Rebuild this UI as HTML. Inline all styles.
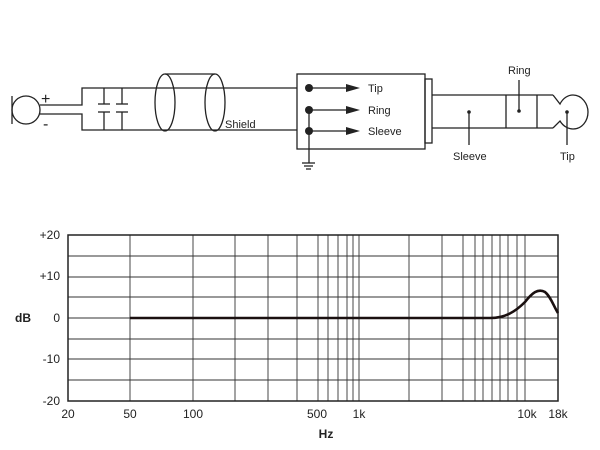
<!DOCTYPE html>
<html><head><style>
body{margin:0;background:#fff}
svg{display:block}
text{font-family:"Liberation Sans",sans-serif;fill:#222}
</style></head><body>
<svg width="600" height="450" viewBox="0 0 600 450" xmlns="http://www.w3.org/2000/svg">
<g fill="none" stroke="#222" stroke-width="1.3">
<circle cx="26" cy="110" r="14"/>
<line x1="12" y1="96" x2="12" y2="124"/>
<polyline points="40,105 82,105 82,88 297,88"/>
<polyline points="40,114 82,114 82,130 297,130"/>
<line x1="104" y1="88" x2="104" y2="104"/><line x1="98" y1="104" x2="110" y2="104"/>
<line x1="98" y1="112" x2="110" y2="112"/><line x1="104" y1="112" x2="104" y2="130"/>
<line x1="122" y1="88" x2="122" y2="104"/><line x1="116" y1="104" x2="128" y2="104"/>
<line x1="116" y1="112" x2="128" y2="112"/><line x1="122" y1="112" x2="122" y2="130"/>
<ellipse cx="165" cy="102.5" rx="10" ry="28.5"/>
<ellipse cx="215" cy="102.5" rx="10" ry="28.5"/>
<line x1="165" y1="74" x2="215" y2="74"/>
<rect x="297" y="74" width="128" height="75"/>
<rect x="425" y="79" width="7" height="64"/>
<line x1="309" y1="88" x2="348" y2="88"/>
<line x1="309" y1="110" x2="348" y2="110"/>
<line x1="309" y1="131" x2="348" y2="131"/>
<line x1="309" y1="110" x2="309" y2="163"/>
<line x1="302" y1="163" x2="315" y2="163"/>
<line x1="304" y1="166" x2="313" y2="166"/>
<line x1="306" y1="169" x2="311" y2="169"/>
<line x1="432" y1="95" x2="553" y2="95"/>
<line x1="432" y1="128" x2="553" y2="128"/>
<line x1="506" y1="95" x2="506" y2="128"/>
<line x1="537" y1="95" x2="537" y2="128"/>
<path d="M553,95 L560,104 C563,98 568,95 573,95 C582,95 588,104 588,112 C588,121 582,129 573,129 C568,129 563,126 560,121 L553,128"/>
<line x1="469" y1="112" x2="469" y2="145"/>
<line x1="519" y1="111" x2="519" y2="80"/>
<line x1="567" y1="112" x2="567" y2="145"/>
</g>
<g fill="#222">
<circle cx="309" cy="88" r="4"/><circle cx="309" cy="110" r="4"/><circle cx="309" cy="131" r="4"/>
<polygon points="346,84 360,88 346,92"/><polygon points="346,106 360,110 346,114"/><polygon points="346,127 360,131 346,135"/>
<circle cx="469" cy="112" r="1.8"/><circle cx="519" cy="111" r="1.8"/><circle cx="567" cy="112" r="1.8"/>
</g>
<g font-size="11">
<text x="41" y="104" font-size="16">+</text>
<text x="43" y="129" font-size="16">-</text>
<text x="225" y="128">Shield</text>
<text x="368" y="92">Tip</text>
<text x="368" y="114">Ring</text>
<text x="368" y="135">Sleeve</text>
<text x="508" y="74">Ring</text>
<text x="453" y="160">Sleeve</text>
<text x="560" y="160">Tip</text>
</g>
<g stroke="#333" stroke-width="0.9">
<line x1="68" y1="256" x2="558" y2="256"/><line x1="68" y1="277" x2="558" y2="277"/>
<line x1="68" y1="297" x2="558" y2="297"/><line x1="68" y1="318" x2="558" y2="318"/>
<line x1="68" y1="339" x2="558" y2="339"/><line x1="68" y1="359" x2="558" y2="359"/>
<line x1="68" y1="380" x2="558" y2="380"/>
<line x1="130" y1="235" x2="130" y2="401"/><line x1="193" y1="235" x2="193" y2="401"/>
<line x1="235" y1="235" x2="235" y2="401"/><line x1="268" y1="235" x2="268" y2="401"/>
<line x1="297" y1="235" x2="297" y2="401"/><line x1="318" y1="235" x2="318" y2="401"/>
<line x1="328" y1="235" x2="328" y2="401"/><line x1="338" y1="235" x2="338" y2="401"/>
<line x1="347" y1="235" x2="347" y2="401"/><line x1="353" y1="235" x2="353" y2="401"/>
<line x1="359" y1="235" x2="359" y2="401"/><line x1="409" y1="235" x2="409" y2="401"/>
<line x1="442" y1="235" x2="442" y2="401"/><line x1="463" y1="235" x2="463" y2="401"/>
<line x1="475" y1="235" x2="475" y2="401"/><line x1="483" y1="235" x2="483" y2="401"/>
<line x1="492" y1="235" x2="492" y2="401"/><line x1="500" y1="235" x2="500" y2="401"/>
<line x1="508" y1="235" x2="508" y2="401"/><line x1="517" y1="235" x2="517" y2="401"/>
<line x1="525" y1="235" x2="525" y2="401"/>
</g>
<rect x="68" y="235" width="490" height="166" fill="none" stroke="#222" stroke-width="1.5"/>
<path d="M130,318 L490,318 C505,318 515,312 525,302 C532,293 538,288 545,292 C551,297 554,307 558,313" fill="none" stroke="#1a1010" stroke-width="2.6"/>
<g font-size="12" text-anchor="end">
<text x="60" y="239">+20</text><text x="60" y="280">+10</text><text x="60" y="322">0</text>
<text x="60" y="363">-10</text><text x="60" y="405">-20</text>
</g>
<text x="15" y="322" font-size="12" font-weight="bold">dB</text>
<g font-size="12" text-anchor="middle">
<text x="68" y="418">20</text><text x="130" y="418">50</text><text x="193" y="418">100</text>
<text x="317" y="418">500</text><text x="359" y="418">1k</text>
<text x="527" y="418">10k</text><text x="558" y="418">18k</text>
</g>
<text x="326" y="438" font-size="12" font-weight="bold" text-anchor="middle">Hz</text>
</svg>
</body></html>
